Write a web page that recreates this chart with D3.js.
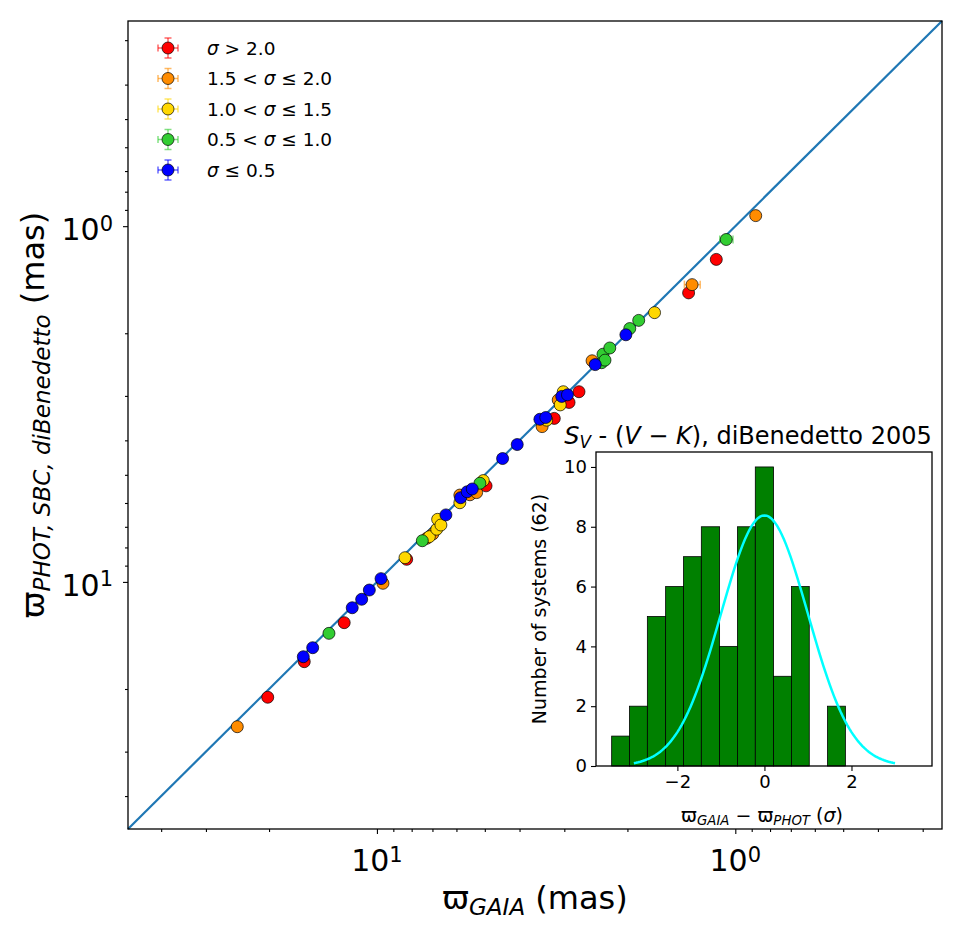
<!DOCTYPE html>
<html>
<head>
<meta charset="utf-8">
<script src="https://cdn.jsdelivr.net/npm/d3@7"></script>
<style>
  body { margin: 0; background: #fff; }
  text { font-family: "DejaVu Sans", sans-serif; fill: #000; }
</style>
</head>
<body>
<div id="chart"></div>
<script>
// ---- data (parallaxes in mas) ----
const redGaia = [20.17, 15.95, 12.34, 8.26, 4.96, 3.20, 2.91, 2.73, 1.35, 1.13];
const redPhot = [21.10, 16.76, 13.02, 8.64, 5.37, 3.47, 3.13, 2.92, 1.54, 1.24];
const redErr  = [0, 0, 0, 0, 0, 0, 0, 0, 0, 0];

const orangeGaia = [24.53, 9.62, 7.26, 6.98, 5.87, 5.50, 5.27, 3.46, 3.12, 3.00, 2.51, 1.32, 0.877];
const orangePhot = [25.53, 10.09, 7.54, 7.33, 5.70, 5.69, 5.61, 3.66, 3.08, 2.98, 2.39, 1.46, 0.934];
const orangeErr  = [0, 0, 0, 0, 0, 0, 0, 0, 0, 0, 0, 0.067, 0];

const yellowGaia = [8.35, 7.14, 6.81, 6.77, 6.63, 5.87, 5.05, 3.36, 3.08, 3.02, 1.68];
const yellowPhot = [8.55, 7.46, 7.11, 6.67, 6.92, 5.99, 5.19, 3.51, 3.18, 2.92, 1.75];
const yellowErr  = [0, 0, 0, 0, 0, 0, 0, 0, 0, 0, 0];

const greenGaia = [13.61, 7.47, 5.16, 2.36, 2.34, 2.31, 2.24, 1.97, 1.86, 1.06];
const greenPhot = [13.95, 7.66, 5.28, 2.42, 2.29, 2.38, 2.20, 1.94, 1.84, 1.09];
const greenErr  = [0, 0, 0, 0, 0, 0, 0, 0, 0, 0.045];

const blueGaia = [16.05, 15.11, 11.72, 11.03, 10.50, 9.74, 6.42, 5.84, 5.60, 5.42, 4.46, 4.06, 3.51, 3.38, 3.05, 2.94, 2.46, 2.02];
const bluePhot = [16.23, 15.31, 11.82, 11.19, 10.54, 9.79, 6.48, 5.80, 5.58, 5.48, 4.50, 4.11, 3.49, 3.45, 3.01, 2.98, 2.45, 2.02];
const blueErr  = [0, 0, 0, 0, 0, 0, 0, 0, 0, 0, 0, 0, 0, 0, 0, 0, 0, 0];

// axis limits (same on both axes, inverted)
const axisLimits = [49.5, 0.265];
const majorTicks = [10, 1];

// inset histogram
const histEdges  = [-3.51, -3.10, -2.69, -2.27, -1.86, -1.45, -1.03, -0.62, -0.21, 0.21, 0.62, 1.03, 1.45, 1.86];
const histCounts = [1, 2, 5, 6, 7, 8, 4, 8, 10, 3, 6, 0, 2];
const histXTicks = [-2, 0, 2];
const histYTicks = [0, 2, 4, 6, 8, 10];
const gaussPeak = 8.38, gaussMu = 0, gaussSigma = 1, gaussRange = [-3, 3];

const groups = [
  {label: [["σ", true], [" > 2.0", false]], color: "#ff0000", gaia: redGaia, phot: redPhot, err: redErr},
  {label: [["1.5 < ", false], ["σ", true], [" ≤ 2.0", false]], color: "#ff8c00", gaia: orangeGaia, phot: orangePhot, err: orangeErr},
  {label: [["1.0 < ", false], ["σ", true], [" ≤ 1.5", false]], color: "#ffd700", gaia: yellowGaia, phot: yellowPhot, err: yellowErr},
  {label: [["0.5 < ", false], ["σ", true], [" ≤ 1.0", false]], color: "#32cd32", gaia: greenGaia, phot: greenPhot, err: greenErr},
  {label: [["σ", true], [" ≤ 0.5", false]], color: "#0000ff", gaia: blueGaia, phot: bluePhot, err: blueErr}
];

// ---- main plot ----
const margin = {top: 21, right: 23, bottom: 103, left: 128},
  width = 965 - margin.left - margin.right,
  height = 932 - margin.top - margin.bottom;

const svg = d3.select("#chart")
  .append("svg")
  .attr("width", 965)
  .attr("height", 932);

const g = svg.append("g")
  .attr("transform", `translate(${margin.left},${margin.top})`);

const x = d3.scaleLog().domain(axisLimits).range([0, width]);
const y = d3.scaleLog().domain(axisLimits.slice().reverse()).range([0, height]);

// minor ticks at 2..9 times each decade inside the limits
const minorTicks = [];
[0.1, 1, 10].forEach(dec => {
  for (let k = 2; k <= 9; k++) {
    const v = k * dec;
    if (v < axisLimits[0] && v > axisLimits[1]) minorTicks.push(v);
  }
});

function styleTicks(sel) {
  sel.select(".domain").remove();
  sel.selectAll(".tick line").attr("stroke", "#000").attr("stroke-width", 1.1);
}

g.append("g").attr("transform", `translate(0,${height})`)
  .call(d3.axisBottom(x).tickValues(minorTicks).tickSize(3).tickFormat(""))
  .call(styleTicks);
g.append("g")
  .call(d3.axisLeft(y).tickValues(minorTicks).tickSize(3).tickFormat(""))
  .call(styleTicks);
g.append("g").attr("transform", `translate(0,${height})`)
  .call(d3.axisBottom(x).tickValues(majorTicks).tickSize(5).tickFormat(""))
  .call(styleTicks);
g.append("g")
  .call(d3.axisLeft(y).tickValues(majorTicks).tickSize(5).tickFormat(""))
  .call(styleTicks);

// power-of-ten tick labels
function powerLabel(sel, v) {
  sel.append("tspan").text("10");
  sel.append("tspan").attr("dy", "-0.45em").attr("font-size", "0.7em").text(Math.round(Math.log10(v)));
}
majorTicks.forEach(v => {
  g.append("text")
    .attr("x", x(v)).attr("y", height + 42)
    .attr("text-anchor", "middle")
    .style("font-size", "30px")
    .call(powerLabel, v);
  g.append("text")
    .attr("x", -15).attr("y", y(v) + 14)
    .attr("text-anchor", "end")
    .style("font-size", "30px")
    .call(powerLabel, v);
});

// axis titles
const xTitle = g.append("text")
  .attr("x", width / 2).attr("y", height + 80)
  .attr("text-anchor", "middle")
  .style("font-size", "32px");
xTitle.append("tspan").text("ϖ");
xTitle.append("tspan").attr("dy", "0.25em").attr("font-size", "0.72em").style("font-style", "italic").text("GAIA");
xTitle.append("tspan").attr("dy", "-0.18em").text(" (mas)");

const yTitle = g.append("text")
  .attr("transform", "rotate(-90)")
  .attr("x", -height / 2 + 10).attr("y", -84)
  .attr("text-anchor", "middle")
  .style("font-size", "32px");
yTitle.append("tspan").text("ϖ");
yTitle.append("tspan").attr("dy", "0.25em").attr("font-size", "0.72em").style("font-style", "italic").text("PHOT, SBC, diBenedetto");
yTitle.append("tspan").attr("dy", "-0.18em").text(" (mas)");

// one-to-one line
g.append("clipPath").attr("id", "plotclip")
  .append("rect").attr("width", width).attr("height", height);
g.append("line")
  .attr("x1", x(axisLimits[0])).attr("y1", y(axisLimits[0]))
  .attr("x2", x(axisLimits[1])).attr("y2", y(axisLimits[1]))
  .attr("stroke", "#1f77b4")
  .attr("stroke-width", 2.2);

// points with error bars, one layer per sigma class
const pts = g.append("g").attr("clip-path", "url(#plotclip)");
groups.forEach(grp => {
  const data = grp.gaia.map((v, i) => ({gaia: v, phot: grp.phot[i], err: grp.err[i]}));
  const layer = pts.append("g");
  const withErr = data.filter(d => d.err > 0);
  layer.selectAll("line.eb").data(withErr).join("line")
    .attr("class", "eb")
    .attr("x1", d => x(d.gaia + d.err)).attr("x2", d => x(d.gaia - d.err))
    .attr("y1", d => y(d.phot)).attr("y2", d => y(d.phot))
    .attr("stroke", grp.color).attr("stroke-opacity", 0.6).attr("stroke-width", 1.5);
  [1, -1].forEach(s => {
    layer.selectAll(null).data(withErr).join("line")
      .attr("x1", d => x(d.gaia + s * d.err)).attr("x2", d => x(d.gaia + s * d.err))
      .attr("y1", d => y(d.phot) - 4).attr("y2", d => y(d.phot) + 4)
      .attr("stroke", grp.color).attr("stroke-opacity", 0.6).attr("stroke-width", 1.5);
  });
  layer.selectAll("circle").data(data).join("circle")
    .attr("cx", d => x(d.gaia))
    .attr("cy", d => y(d.phot))
    .attr("r", 6)
    .attr("fill", grp.color)
    .attr("stroke", "#000")
    .attr("stroke-width", 0.7);
});

// frame
g.append("rect")
  .attr("width", width).attr("height", height)
  .attr("fill", "none").attr("stroke", "#000").attr("stroke-width", 1.3);

// legend
const legend = g.append("g").attr("transform", "translate(40,27)");
groups.forEach((grp, i) => {
  const row = legend.append("g").attr("transform", `translate(0,${i * 30.5})`);
  const ebColor = grp.color;
  row.append("line").attr("x1", -10).attr("x2", 10).attr("stroke", ebColor).attr("stroke-opacity", 0.6).attr("stroke-width", 1.5);
  row.append("line").attr("y1", -10).attr("y2", 10).attr("stroke", ebColor).attr("stroke-opacity", 0.6).attr("stroke-width", 1.5);
  [-10, 10].forEach(c => {
    row.append("line").attr("x1", c).attr("x2", c).attr("y1", -3.5).attr("y2", 3.5)
      .attr("stroke", ebColor).attr("stroke-opacity", 0.6).attr("stroke-width", 1.5);
    row.append("line").attr("y1", c).attr("y2", c).attr("x1", -3.5).attr("x2", 3.5)
      .attr("stroke", ebColor).attr("stroke-opacity", 0.6).attr("stroke-width", 1.5);
  });
  row.append("circle").attr("r", 6).attr("fill", grp.color).attr("stroke", "#000").attr("stroke-width", 0.7);
  const t = row.append("text").attr("x", 39).attr("y", 6.5)
    .style("font-size", "18.5px").style("white-space", "pre");
  grp.label.forEach(([s, it]) => {
    t.append("tspan").style("font-style", it ? "italic" : "normal").text(s);
  });
});

// ---- inset histogram ----
const inset = {left: 596, top: 452, width: 336, height: 314};
const ig = svg.append("g").attr("transform", `translate(${inset.left},${inset.top})`);

ig.append("rect").attr("width", inset.width).attr("height", inset.height).attr("fill", "#fff");

const xi = d3.scaleLinear().domain([-3.87, 3.85]).range([0, inset.width]);
const yi = d3.scaleLinear().domain([0, 10.5]).range([inset.height, 0]);

const bins = histCounts.map((c, i) => ({x0: histEdges[i], x1: histEdges[i + 1], count: c}));
ig.selectAll("rect.bar").data(bins.filter(b => b.count > 0)).join("rect")
  .attr("class", "bar")
  .attr("x", d => xi(d.x0))
  .attr("y", d => yi(d.count))
  .attr("width", d => xi(d.x1) - xi(d.x0))
  .attr("height", d => yi(0) - yi(d.count))
  .attr("fill", "#008000")
  .attr("stroke", "#000")
  .attr("stroke-width", 0.8);

// gaussian reference curve
const gauss = d3.range(gaussRange[0], gaussRange[1] + 1e-9, 0.05)
  .map(v => [v, gaussPeak * Math.exp(-0.5 * ((v - gaussMu) / gaussSigma) ** 2)]);
ig.append("path")
  .datum(gauss)
  .attr("d", d3.line().x(d => xi(d[0])).y(d => yi(d[1])))
  .attr("fill", "none")
  .attr("stroke", "#00ffff")
  .attr("stroke-width", 2.5);

const fmtMinus = d => d < 0 ? "−" + Math.abs(d) : String(d);
ig.append("g").attr("transform", `translate(0,${inset.height})`)
  .call(d3.axisBottom(xi).tickValues(histXTicks).tickSize(5).tickPadding(4).tickFormat(fmtMinus))
  .call(styleTicks)
  .selectAll("text").style("font-size", "18px").attr("fill", "#000");
ig.append("g")
  .call(d3.axisLeft(yi).tickValues(histYTicks).tickSize(5).tickPadding(4))
  .call(styleTicks)
  .selectAll("text").style("font-size", "18px").attr("fill", "#000");

ig.append("rect")
  .attr("width", inset.width).attr("height", inset.height)
  .attr("fill", "none").attr("stroke", "#000").attr("stroke-width", 1.3);

// inset labels
const ixl = ig.append("text")
  .attr("x", inset.width / 2 - 2).attr("y", inset.height + 56)
  .attr("text-anchor", "middle")
  .style("font-size", "19px");
ixl.append("tspan").text("ϖ");
ixl.append("tspan").attr("dy", "0.25em").attr("font-size", "0.7em").style("font-style", "italic").text("GAIA");
ixl.append("tspan").attr("dy", "-0.175em").text(" − ϖ");
ixl.append("tspan").attr("dy", "0.25em").attr("font-size", "0.7em").style("font-style", "italic").text("PHOT");
ixl.append("tspan").attr("dy", "-0.175em").text(" (");
ixl.append("tspan").style("font-style", "italic").text("σ");
ixl.append("tspan").text(")");

ig.append("text")
  .attr("transform", "rotate(-90)")
  .attr("x", -inset.height / 2).attr("y", -50)
  .attr("text-anchor", "middle")
  .style("font-size", "19px")
  .text("Number of systems (62)");

const ititle = ig.append("text")
  .attr("x", inset.width / 2 - 16).attr("y", -8)
  .attr("text-anchor", "middle")
  .style("font-size", "24px");
ititle.append("tspan").style("font-style", "italic").text("S");
ititle.append("tspan").attr("dy", "0.25em").attr("font-size", "0.7em").style("font-style", "italic").text("V");
ititle.append("tspan").attr("dy", "-0.175em").text(" - (");
ititle.append("tspan").style("font-style", "italic").text("V");
ititle.append("tspan").text(" − ");
ititle.append("tspan").style("font-style", "italic").text("K");
ititle.append("tspan").text("), diBenedetto 2005");
</script>
</body>
</html>
